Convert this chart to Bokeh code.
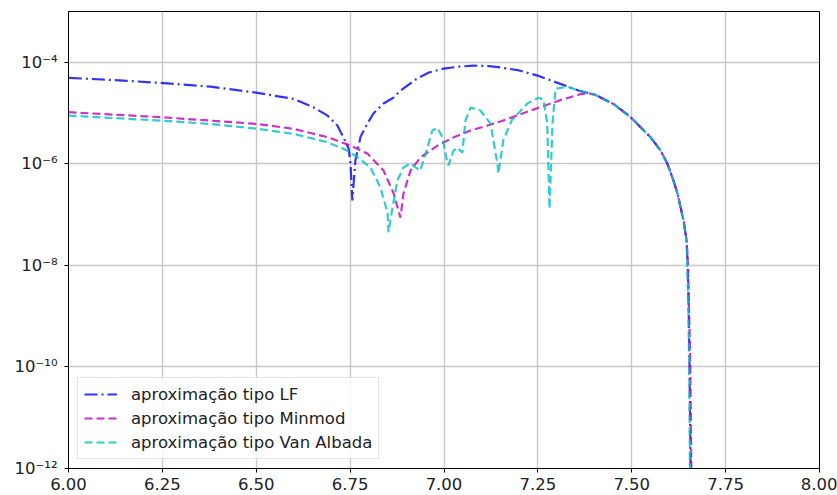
from bokeh.plotting import figure
from bokeh.models import (FixedTicker, NumeralTickFormatter, CustomJSTickFormatter,
                          Legend, LegendItem, Range1d)
from bokeh.embed import file_html
from bokeh.resources import INLINE

# ---- data ----
lf_x = [6.001, 6.112, 6.245, 6.378, 6.503, 6.599, 6.652, 6.690, 6.716, 6.732,
        6.746, 6.751, 6.756, 6.764, 6.778, 6.796, 6.812, 6.839, 6.866, 6.884,
        6.929, 6.960, 6.999, 7.040, 7.079, 7.120, 7.150, 7.200, 7.249, 7.310,
        7.360, 7.402, 7.452, 7.497, 7.550, 7.577, 7.595, 7.611, 7.622, 7.638,
        7.646, 7.649, 7.652, 7.654, 7.658]
lf_y = [4.93e-5, 4.5e-5, 3.93e-5, 3.32e-5, 2.5e-5, 1.9e-5, 1.3e-5, 8.9e-6, 5.7e-6, 3.34e-6,
        2.0e-6, 1.01e-6, 1.9e-7, 1.16e-6, 3.47e-6, 6.2e-6, 9.8e-6, 1.54e-5, 2.02e-5, 2.77e-5,
        4.8e-5, 6.3e-5, 7.5e-5, 8.2e-5, 8.6e-5, 8.4e-5, 7.9e-5, 6.9e-5, 5.47e-5, 3.76e-5,
        2.75e-5, 2.3e-5, 1.5e-5, 8.3e-6, 3.34e-6, 1.82e-6, 1.0e-6, 4.7e-7, 2.57e-7, 7.6e-8,
        3.1e-8, 1e-8, 1e-9, 1e-10, 1e-13]

mm_x = [6.000, 6.245, 6.378, 6.503, 6.599, 6.690, 6.751, 6.796, 6.839, 6.866,
        6.884, 6.892, 6.911, 6.937, 6.983, 7.025, 7.071, 7.116, 7.150, 7.238,
        7.310, 7.363, 7.385, 7.402, 7.452, 7.497, 7.550, 7.577, 7.595, 7.611,
        7.622, 7.638, 7.646, 7.650, 7.653, 7.656, 7.660]
mm_y = [1.04e-5, 8.3e-6, 7.1e-6, 6.1e-6, 4.9e-6, 3.34e-6, 2.29e-6, 1.59e-6, 7.4e-7, 2.6e-7,
        8.7e-8, 2.6e-7, 7.4e-7, 1.33e-6, 2.29e-6, 3.3e-6, 4.53e-6, 5.67e-6, 6.8e-6, 1.17e-5,
        1.8e-5, 2.35e-5, 2.45e-5, 2.3e-5, 1.5e-5, 8.3e-6, 3.34e-6, 1.82e-6, 1.0e-6, 4.7e-7,
        2.57e-7, 7.6e-8, 3.1e-8, 1e-8, 1e-9, 1e-10, 1e-13]

va_x = [6.000, 6.245, 6.378, 6.503, 6.599, 6.690, 6.743, 6.770, 6.804, 6.831,
        6.850, 6.852, 6.863, 6.876, 6.892, 6.911, 6.924, 6.937, 6.951, 6.969,
        6.983, 6.996, 7.009, 7.012, 7.025, 7.036, 7.049, 7.057, 7.071, 7.097,
        7.124, 7.142, 7.145, 7.158, 7.180, 7.222, 7.252, 7.265, 7.275, 7.281,
        7.289, 7.297, 7.329, 7.360, 7.402, 7.452, 7.497, 7.550, 7.577, 7.595,
        7.611, 7.622, 7.638, 7.646, 7.648, 7.651, 7.653, 7.656]
va_y = [8.9e-6, 7.1e-6, 6.1e-6, 4.9e-6, 3.9e-6, 2.66e-6, 1.82e-6, 1.35e-6, 8.5e-7, 3.4e-7,
        1.05e-7, 4.5e-8, 1.38e-7, 4.7e-7, 8.5e-7, 1.02e-6, 8.5e-7, 7.4e-7, 1.59e-6, 4.53e-6,
        5.1e-6, 3.3e-6, 1.02e-6, 9.3e-7, 1.82e-6, 2.09e-6, 1.66e-6, 7.1e-6, 1.29e-5, 1.12e-5,
        6.2e-6, 1.02e-6, 6.4e-7, 2.9e-6, 7.1e-6, 1.54e-5, 2.0e-5, 1.85e-5, 6.2e-6, 1.3e-7,
        6.2e-6, 3.0e-5, 3.3e-5, 2.75e-5, 2.3e-5, 1.5e-5, 8.3e-6, 3.34e-6, 1.82e-6, 1.0e-6,
        4.7e-7, 2.57e-7, 7.6e-8, 3.1e-8, 1e-8, 1e-9, 1e-10, 1e-13]

x_ticks = [6.0, 6.25, 6.5, 6.75, 7.0, 7.25, 7.5, 7.75, 8.0]
y_ticks = [1e-12, 1e-10, 1e-8, 1e-6, 1e-4]
labels = ["aproximação tipo LF", "aproximação tipo Minmod", "aproximação tipo Van Albada"]

FONT = "DejaVu Sans"
FS = "16.5px"

p = figure(width=837, height=495, y_axis_type="log", output_backend="svg",
           toolbar_location=None, x_range=Range1d(6.0, 8.0), y_range=Range1d(1e-12, 1e-3),
           min_border_left=68, min_border_right=18, min_border_top=11, min_border_bottom=27)
p.background_fill_color = "white"
p.border_fill_color = "white"
p.outline_line_color = "black"
p.outline_line_width = 1

r1 = p.line(lf_x, lf_y, line_color="#0000ff", line_alpha=0.8, line_width=2.2, line_dash="13 4 2 4")
r2 = p.line(mm_x, mm_y, line_color="#bf00bf", line_alpha=0.8, line_width=2.2, line_dash="8 4")
r3 = p.line(va_x, va_y, line_color="#00bfbf", line_alpha=0.8, line_width=2.2, line_dash="8 4")

p.xaxis.ticker = FixedTicker(ticks=x_ticks)
p.xaxis.formatter = NumeralTickFormatter(format="0.00")
p.yaxis.ticker = FixedTicker(ticks=y_ticks, minor_ticks=[])
p.yaxis.formatter = CustomJSTickFormatter(code="""
const sup = {'0':'\u2070','1':'\u00b9','2':'\u00b2','3':'\u00b3','4':'\u2074','5':'\u2075',
             '6':'\u2076','7':'\u2077','8':'\u2078','9':'\u2079','-':'\u207b'};
const e = Math.round(Math.log10(tick));
return '10' + String(e).split('').map(c => sup[c]).join('');
""")

for ax in (p.xaxis[0], p.yaxis[0]):
    ax.major_label_text_font = FONT
    ax.major_label_text_font_size = FS
    ax.major_label_text_color = "#222222"
    ax.axis_line_color = "black"
    ax.major_tick_line_color = "black"
    ax.major_tick_out = 4
    ax.major_tick_in = 0
    ax.minor_tick_line_color = None
p.xaxis.major_label_standoff = 5
p.yaxis.major_label_standoff = 7

p.xgrid.grid_line_color = "#c8c8c8"
p.ygrid.grid_line_color = "#c8c8c8"
p.xgrid.grid_line_width = 1.4
p.ygrid.grid_line_width = 1.4

legend = Legend(items=[LegendItem(label=labels[0], renderers=[r1]),
                       LegendItem(label=labels[1], renderers=[r2]),
                       LegendItem(label=labels[2], renderers=[r3])],
                location="bottom_left")
legend.margin = 9
legend.padding = 6
legend.spacing = 4
legend.glyph_width = 33
legend.glyph_height = 20
legend.label_height = 20
legend.label_standoff = 14
legend.label_text_font = FONT
legend.label_text_font_size = FS
legend.label_text_color = "#222222"
legend.border_line_color = "#cccccc"
legend.border_line_width = 1
legend.background_fill_alpha = 0.8
p.add_layout(legend)

open("out.html", "w").write(file_html(p, INLINE))
